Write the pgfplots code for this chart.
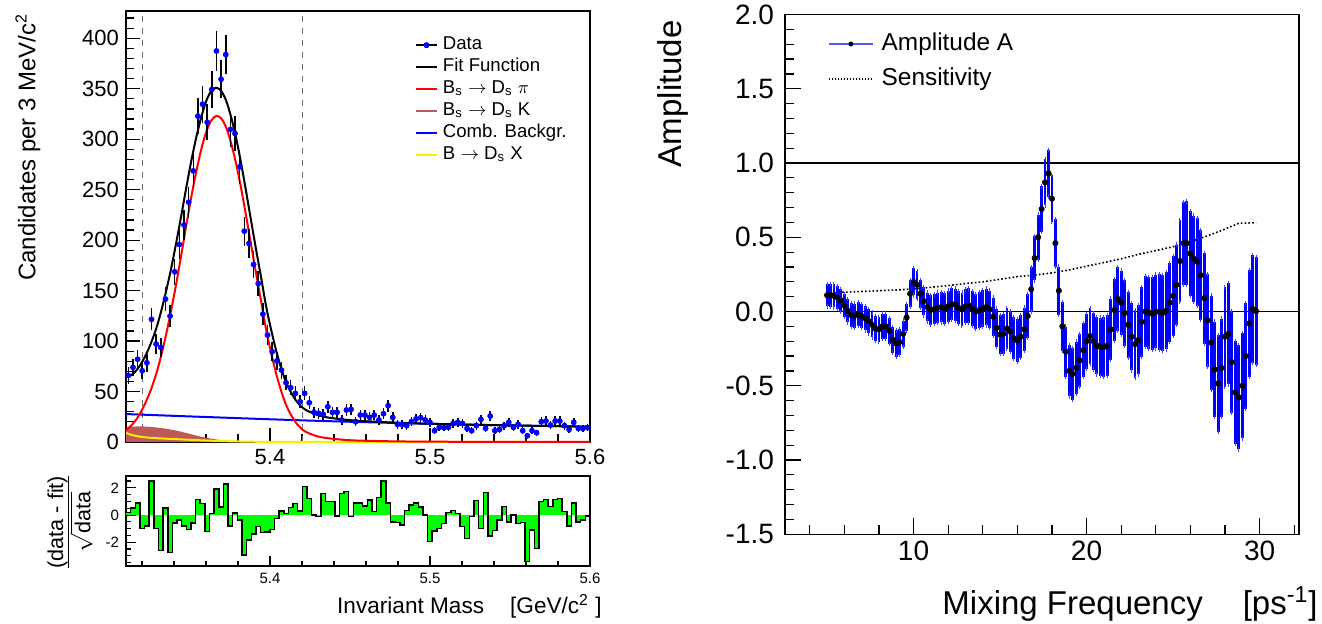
\documentclass[border=0pt]{standalone}
\usepackage{fontspec}
\setmainfont{Liberation Sans}
\usepackage{pgfplots}
\usepackage{pgfplotstable}
\pgfplotsset{compat=1.18}
\definecolor{rootblue}{RGB}{0,0,255}
\definecolor{rootgreen}{RGB}{0,255,0}
\definecolor{rootred}{RGB}{255,0,0}
\definecolor{rootyellow}{RGB}{255,235,0}
\definecolor{rootbrown}{RGB}{192,88,88}
\definecolor{dashgray}{RGB}{110,110,110}

% ---------- left: data (bin index, candidates) ----------
\pgfplotstableread{
k n
0 66
1 74
2 82
3 70.6
4 78.5
5 121.5
6 97
7 93.7
8 141.6
9 124.8
10 168.6
11 195.7
12 215
13 237.6
14 268.6
15 322.8
16 334.7
17 316.8
18 349.2
19 387.4
20 359.4
21 383.8
22 309.6
23 305.6
24 272.6
25 208.9
26 196.7
27 175.9
28 157
29 126.7
30 106
31 89.4
32 80.2
33 71.3
34 58.7
35 53.8
36 48.2
37 39.9
38 48.2
39 38.9
40 29.5
41 28.4
42 27.4
43 35
44 29.4
45 29.4
46 21.8
47 31.7
48 32.3
49 20.1
50 26.7
51 26.7
52 24.4
53 26.7
54 21.8
55 28
56 36
57 24.4
58 17.5
59 17.5
60 16.2
61 20.1
62 22.8
63 24.1
64 21.8
65 19.5
66 11.2
67 14.5
68 14.2
69 14.5
70 18.5
71 19.5
72 18.5
73 13.5
74 11.2
75 16.2
76 22.4
77 13.5
78 25.7
79 11.2
80 12.5
81 16.2
82 19.5
83 14.5
84 17.5
85 11.2
86 6.2
87 11.2
88 9.2
89 20.1
90 20.8
91 16.8
92 20.8
93 20.8
94 16.2
95 12.5
96 19.5
97 13.5
98 13.5
99 14.2
}\datatab

% ---------- left: residuals (bin index, (data-fit)/sqrt(data)) ----------
\pgfplotstableread{
k r
0 0.2
1 0.5
2 0.9
3 -1.0
4 -0.8
5 2.5
6 -1.0
7 -2.6
8 0.5
9 -2.75
10 -0.6
11 -0.37
12 -0.8
13 -1.05
14 -0.6
15 1.15
16 0.85
17 -1.2
18 0.1
19 1.9
20 0.6
21 2.3
22 -0.8
23 0.15
24 -0.37
25 -2.95
26 -1.85
27 -1.4
28 -0.85
29 -1.3
30 -1.25
31 -1.05
32 -0.25
33 0.3
34 0.1
35 0.55
36 0.85
37 0.3
38 2.1
39 1.2
40 0.0
41 -0.12
42 1.6
43 0.98
44 0.98
45 -0.07
46 1.6
47 1.72
48 -0.12
49 0.9
50 0.9
51 0.66
52 1.1
53 0.25
54 1.3
55 2.5
56 0.9
57 -0.5
58 -0.56
59 -0.74
60 0.32
61 0.74
62 0.9
63 0.6
64 0.0
65 -1.96
66 -1.18
67 -0.98
68 -0.61
69 0.17
70 0.32
71 0.12
72 -0.86
73 -1.72
74 -0.12
75 1.05
76 -0.98
77 1.64
78 -1.55
79 -1.15
80 -0.37
81 0.61
82 -0.5
83 0.0
84 -0.61
85 -0.54
86 -3.43
87 -1.1
88 -2.45
89 0.98
90 1.15
91 0.61
92 1.15
93 1.23
94 0.25
95 -0.81
96 0.9
97 -0.5
98 -0.37
99 -0.07
100 -0.07
}\restab

% ---------- left: fit components ----------
\pgfplotstableread{
x y
5.3100 65
5.3131 66
5.3163 70.6
5.3194 77.5
5.3225 86.6
5.3256 97.9
5.3288 112
5.3319 129
5.3350 149
5.3381 171
5.3413 196.6
5.3444 223
5.3475 250.5
5.3506 276.8
5.3538 301
5.3569 321
5.3600 337.2
5.3631 347.4
5.3663 351
5.3694 348
5.3725 338.6
5.3756 322.5
5.3788 301.3
5.3819 276.5
5.3850 248.8
5.3881 220
5.3913 190.7
5.3944 163.4
5.3975 135
5.4006 112
5.4038 90.8
5.4069 73.6
5.4100 59.4
5.4131 49.2
5.4163 41
5.4194 35.4
5.4225 31.7
5.4288 27.2
5.4350 24.6
5.4475 22
5.4600 20.6
5.4850 18.8
5.5225 17.2
5.6000 15.2
}\fittab

\pgfplotstableread{
x y
5.3100 12
5.3131 16
5.3163 22
5.3194 30
5.3225 40
5.3256 52
5.3288 67
5.3319 85
5.3350 106
5.3381 129.5
5.3413 156
5.3444 184
5.3475 213
5.3506 241
5.3538 267
5.3569 289
5.3600 306.5
5.3631 318
5.3663 323
5.3694 320.8
5.3725 312
5.3756 296.7
5.3788 276
5.3819 251.8
5.3850 224.5
5.3881 196
5.3913 167
5.3944 140
5.3975 112
5.4006 89
5.4038 68
5.4069 51
5.4100 37
5.4131 27
5.4163 19
5.4194 13.5
5.4225 10
5.4288 6
5.4350 4
5.4475 2
5.4600 1.2
5.4850 0.5
5.5225 0.2
5.6000 0.05
}\redtab

\pgfplotstableread{
x y
5.31 27.7
5.356 25.0
5.4313 20.9
5.5125 17.6
5.6 15.1
}\bluetab

\pgfplotstableread{
x y
5.31 14
5.3125 15
5.31875 15.5
5.325 15
5.33125 14
5.3375 12.5
5.34375 10.5
5.35 8
5.35625 5.5
5.3625 3.5
5.36875 2
5.375 1
5.38125 0.4
5.39375 0
5.6 0
}\browntab

\pgfplotstableread{
x y
5.31 9
5.3125 7.5
5.3163 6
5.32 5
5.325 4.2
5.3313 3.6
5.34 2.9
5.35 2.2
5.3625 1.3
5.375 0.7
5.3938 0.2
5.42 0.05
5.6 0
}\yellowtab

% ---------- right: amplitude scan ----------
\pgfplotstableread{
x y e
5.0 0.11 0.076
5.2 0.11 0.077
5.4 0.105 0.077
5.6 0.095 0.078
5.8 0.075 0.078
6.0 0.04 0.079
6.2 0.005 0.079
6.4 -0.025 0.080
6.6 -0.028 0.081
6.8 -0.018 0.081
7.0 -0.03 0.082
7.2 -0.045 0.082
7.4 -0.065 0.083
7.6 -0.09 0.084
7.8 -0.115 0.084
8.0 -0.12 0.085
8.2 -0.10 0.086
8.4 -0.10 0.086
8.6 -0.13 0.087
8.8 -0.19 0.087
9.0 -0.215 0.088
9.2 -0.205 0.089
9.4 -0.15 0.089
9.6 -0.04 0.090
9.8 0.12 0.090
10.0 0.2 0.091
10.2 0.18 0.093
10.4 0.12 0.094
10.6 0.07 0.096
10.8 0.03 0.097
11.0 0.01 0.099
11.2 0.015 0.100
11.4 0.025 0.102
11.6 0.03 0.103
11.8 0.02 0.105
12.0 0.035 0.106
12.2 0.05 0.108
12.4 0.045 0.109
12.6 0.025 0.111
12.8 0.015 0.112
13.0 0.035 0.114
13.2 0.04 0.116
13.4 0.02 0.117
13.6 0.0 0.119
13.8 0.01 0.120
14.0 0.02 0.122
14.2 0.03 0.124
14.4 0.015 0.126
14.6 -0.035 0.128
14.8 -0.11 0.130
15.0 -0.155 0.132
15.2 -0.15 0.134
15.4 -0.115 0.136
15.6 -0.135 0.138
15.8 -0.18 0.140
16.0 -0.195 0.143
16.2 -0.17 0.144
16.4 -0.12 0.146
16.6 -0.03 0.147
16.8 0.15 0.149
17.0 0.36 0.150
17.2 0.5 0.152
17.4 0.69 0.153
17.6 0.87 0.155
17.8 0.93 0.156
18.0 0.76 0.158
18.2 0.46 0.161
18.4 0.14 0.163
18.6 -0.1 0.166
18.8 -0.27 0.169
19.0 -0.40 0.172
19.2 -0.42 0.174
19.4 -0.38 0.177
19.6 -0.33 0.180
19.8 -0.26 0.182
20.0 -0.20 0.185
20.2 -0.165 0.188
20.4 -0.2 0.191
20.6 -0.23 0.194
20.8 -0.238 0.197
21.0 -0.24 0.200
21.2 -0.23 0.204
21.4 -0.12 0.207
21.6 0.01 0.210
21.8 0.085 0.213
22.0 0.06 0.216
22.2 -0.01 0.219
22.4 -0.09 0.223
22.6 -0.17 0.226
22.8 -0.22 0.229
23.0 -0.19 0.233
23.2 -0.07 0.236
23.4 0.0 0.239
23.6 -0.008 0.242
23.8 -0.015 0.246
24.0 0.0 0.249
24.2 -0.003 0.253
24.4 -0.01 0.257
24.6 0.005 0.260
24.8 0.06 0.264
25.0 0.105 0.268
25.2 0.18 0.271
25.4 0.34 0.275
25.6 0.46 0.279
25.8 0.46 0.282
26.0 0.39 0.286
26.2 0.355 0.291
26.4 0.335 0.296
26.6 0.245 0.301
26.8 0.09 0.306
27.0 -0.06 0.311
27.2 -0.21 0.317
27.4 -0.39 0.322
27.6 -0.485 0.327
27.8 -0.38 0.332
28.0 -0.17 0.337
28.2 -0.15 0.341
28.4 -0.34 0.344
28.6 -0.545 0.348
28.8 -0.578 0.351
29.0 -0.5 0.355
29.2 -0.3 0.358
29.4 -0.08 0.360
29.6 0.017 0.362
29.8 0.003 0.364
}\amptab

\pgfplotstableread{
x s
5 0.125
6 0.13
7 0.135
8 0.14
9 0.145
10 0.152
11 0.163
12 0.175
13 0.188
14 0.2
15 0.217
16 0.235
17 0.245
18 0.26
19 0.28
20 0.305
21 0.33
22 0.355
23 0.385
24 0.41
25 0.436
26 0.47
27 0.51
28 0.555
28.8 0.594
29.8 0.598
}\senstab

\pgfplotsset{
  rootaxis/.style={
    scale only axis,
    anchor=south west,
    axis line style={line width=0.75pt},
    tick align=inside,
    tick pos=left,
    tick style={black, line width=0.6pt},
  }
}

\begin{document}
\begin{tikzpicture}
\useasboundingbox (0,0) rectangle (661pt,311.5pt);

% ================= top-left: mass fit =================
\begin{axis}[rootaxis,
  at={(63pt,90.5pt)}, width=232pt, height=215.5pt,
  xmin=5.31, xmax=5.6, ymin=0, ymax=427,
  major tick length=7pt, minor tick length=4pt,
  xtick={5.4,5.5,5.6}, xticklabels={5.4,5.5,5.6},
  minor xtick={5.32,5.34,5.36,5.38,5.42,5.44,5.46,5.48,5.52,5.54,5.56,5.58},
  ytick={0,50,100,150,200,250,300,350,400},
  yticklabels={0,50,100,150,200,250,300,350,400},
  minor ytick={10,20,...,420},
  tick label style={font=\fontsize{11}{13}\selectfont},
  legend cell align=left,
  legend image code/.code={\draw[#1] (0pt,0pt) -- (10.5pt,0pt);},
  legend style={at={(axis cs:5.4906,404)}, anchor=north west, draw=none, fill=none,
    inner sep=0pt, outer sep=0pt, row sep=0pt,
    font=\fontsize{9.3}{11}\selectfont,
    nodes={inner sep=0pt, text height=7.5pt, text depth=3.5pt},
    /tikz/every odd column/.style={column sep=2.5pt}},
]
\addlegendimage{legend image code/.code={\draw[black,line width=0.75pt] (0pt,0pt) -- (10.5pt,0pt); \fill[rootblue] (5.25pt,0pt) circle (1.3pt);}}
\addlegendentry{Data}
\addlegendimage{black, line width=1pt}
\addlegendentry{Fit Function}
\addlegendimage{rootred, line width=1pt}
\addlegendentry{B\textsubscript{s} $\rightarrow$ D\textsubscript{s} $\pi$}
\addlegendimage{rootbrown, line width=1pt}
\addlegendentry{B\textsubscript{s} $\rightarrow$ D\textsubscript{s} K}
\addlegendimage{rootblue, line width=1pt}
\addlegendentry{Comb. Backgr.}
\addlegendimage{rootyellow, line width=1pt}
\addlegendentry{B $\rightarrow$ D\textsubscript{s} X}

\addplot[dashgray, dashed, line width=0.5pt, forget plot] coordinates {(5.32,0) (5.32,427)};
\addplot[dashgray, dashed, line width=0.5pt, forget plot] coordinates {(5.42,0) (5.42,427)};
\addplot[fill=rootbrown, draw=none, smooth, forget plot] table[x=x,y=y] {\browntab} \closedcycle;
\addplot[rootyellow, line width=1pt, smooth, forget plot] table[x=x,y=y] {\yellowtab};
\addplot[rootblue, line width=1pt, smooth, forget plot] table[x=x,y=y] {\bluetab};
\addplot[rootred, line width=1pt, smooth, forget plot] table[x=x,y=y] {\redtab};
\addplot[black, line width=1pt, smooth, forget plot] table[x=x,y=y] {\fittab};
\addplot[only marks, mark=*, mark size=1.25pt, mark options={draw=rootblue, fill=rootblue}, forget plot,
  error bars/.cd, y dir=both, y explicit, error bar style={black, line width=0.75pt}, error mark=none]
  table[x expr=5.31145+0.0029*\thisrow{k}, y=n, y error expr=sqrt(\thisrow{n})] {\datatab};
\end{axis}

% ================= bottom-left: residuals =================
\begin{axis}[rootaxis,
  at={(63pt,28.5pt)}, width=232pt, height=45pt,
  xmin=5.31, xmax=5.6, ymin=-3.75, ymax=2.87,
  major tick length=5pt, minor tick length=2.5pt,
  xtick={5.4,5.5,5.6}, xticklabels={5.4,5.5,5.6},
  minor xtick={5.32,5.34,5.36,5.38,5.42,5.44,5.46,5.48,5.52,5.54,5.56,5.58},
  ytick={-2,0,2}, yticklabels={-2,0,2},
  minor ytick={-3.5,-3,-2.5,-1.5,-1,-0.5,0.5,1,1.5,2.5},
  tick label style={font=\fontsize{7.5}{9}\selectfont},
]
\addplot[const plot, fill=rootgreen, draw=none] table[x expr=5.31+0.0029*\thisrow{k}, y=r] {\restab} \closedcycle;
\addplot[const plot, black, line width=0.75pt] table[x expr=5.31+0.0029*\thisrow{k}, y=r] {\restab};
\end{axis}

% ================= right: amplitude scan =================
\begin{axis}[rootaxis,
  at={(392.5pt,44.375pt)}, width=257pt, height=259.875pt,
  xmin=2.57, xmax=32.28, ymin=-1.5, ymax=2,
  major tick length=8pt, minor tick length=4.5pt,
  xtick={10,20,30}, xticklabels={10,20,30},
  minor xtick={4,6,8,12,14,16,18,22,24,26,28,32},
  ytick={-1.5,-1,-0.5,0,0.5,1,1.5,2},
  yticklabels={-1.5,-1.0,-0.5,0.0,0.5,1.0,1.5,2.0},
  minor ytick={-1.4,-1.3,-1.2,-1.1,-0.9,-0.8,-0.7,-0.6,-0.4,-0.3,-0.2,-0.1,0.1,0.2,0.3,0.4,0.6,0.7,0.8,0.9,1.1,1.2,1.3,1.4,1.6,1.7,1.8,1.9},
  tick label style={font=\fontsize{14}{16}\selectfont},
  yticklabel style={xshift=-2pt},
  legend cell align=left,
  legend style={at={(axis cs:5.06,1.882)}, anchor=north west, draw=none, fill=none,
    inner sep=0pt, outer sep=0pt, row sep=5.5pt,
    font=\fontsize{12.2}{14}\selectfont,
    nodes={inner sep=0pt, text height=9pt, text depth=3pt},
    /tikz/every odd column/.style={column sep=4pt}},
]
\addlegendimage{legend image code/.code={\draw[rootblue!65, line width=0.8pt] (0pt,0pt) -- (22pt,0pt); \fill[black] (11pt,0pt) circle (1pt);}}
\addlegendentry{Amplitude A}
\addlegendimage{legend image code/.code={\draw[black, line width=0.7pt, dash pattern=on 0.6pt off 0.9pt] (0pt,0pt) -- (22pt,0pt);}}
\addlegendentry{Sensitivity}

\addplot[black, line width=0.6pt, forget plot] coordinates {(2.57,0) (32.28,0)};
\addplot[black, line width=0.6pt, forget plot] coordinates {(2.57,1) (32.28,1)};
\addplot[black, line width=0.8pt, dash pattern=on 0.8pt off 1.1pt, forget plot] table[x=x,y=s] {\senstab};
% error bars first
\addplot[draw=none, mark=none, forget plot,
  error bars/.cd, y dir=both, y explicit,
  error bar style={rootblue, line width=1.45pt},
  error mark options={rootblue!75, mark size=1.1pt, line width=0.5pt}]
  table[x=x, y=y, y error=e] {\amptab};
% points on top
\addplot[only marks, mark=*, mark size=1.3pt, mark options={draw=black, fill=black}, forget plot]
  table[x=x, y=y] {\amptab};
\end{axis}

% ================= titles =================
\node[rotate=90, anchor=east, inner sep=0pt, font=\fontsize{12}{14}\selectfont] at (14pt,305pt) {Candidates per 3 MeV/c\textsuperscript{2}};
\node[rotate=90, anchor=east, inner sep=0pt, font=\fontsize{16.5}{19}\selectfont] at (336.5pt,301.5pt) {Amplitude};
\node[anchor=east, inner sep=0pt, font=\fontsize{16.5}{19}\selectfont] at (659pt,9.5pt) {Mixing Frequency\hspace{20pt}[ps\textsuperscript{-1}]};
\node[anchor=east, inner sep=0pt, font=\fontsize{11.3}{13}\selectfont] at (301pt,8.2pt) {Invariant Mass\hspace{13pt}[GeV/c\textsuperscript{2} ]};
\node[rotate=90, inner sep=0pt, font=\fontsize{10.8}{13}\selectfont] at (35pt,50.5pt) {$\frac{\textrm{(data - fit)}}{\sqrt{\textrm{data}}}$};
\end{tikzpicture}
\end{document}
